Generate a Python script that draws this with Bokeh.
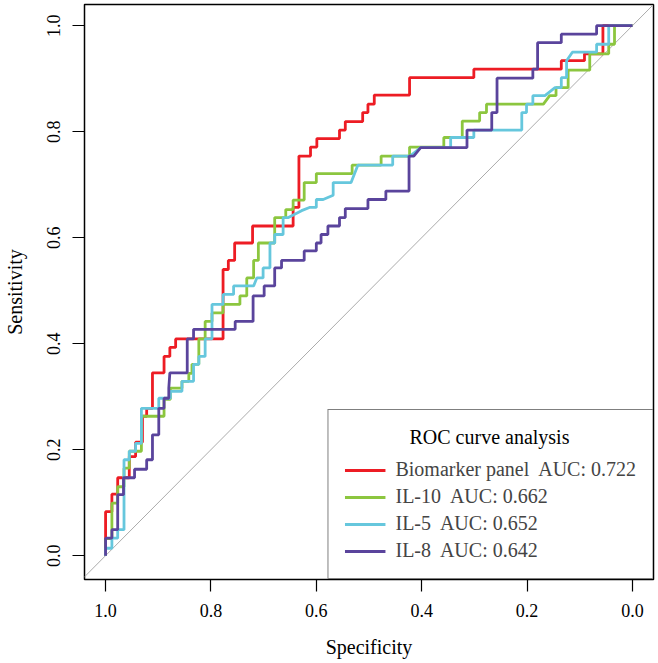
from bokeh.plotting import figure
from bokeh.models import Range1d, Slope, Legend, LegendItem, FixedTicker
from bokeh.embed import file_html
from bokeh.resources import INLINE

# ---- data (specificity, sensitivity) ----
red_pts = [(1.000,0.000),(1.000,0.083),(0.988,0.083),(0.988,0.116),(0.977,0.116),(0.977,0.147),(0.955,0.147),(0.955,0.187),(0.943,0.187),(0.943,0.214),(0.930,0.214),(0.930,0.263),(0.922,0.263),(0.922,0.278),(0.911,0.278),(0.911,0.345),(0.889,0.345),(0.889,0.376),(0.878,0.376),(0.878,0.393),(0.867,0.393),(0.867,0.409),(0.777,0.409),(0.777,0.540),(0.767,0.540),(0.767,0.557),(0.755,0.557),(0.755,0.590),(0.721,0.590),(0.721,0.622),(0.644,0.622),(0.644,0.657),(0.633,0.657),(0.633,0.754),(0.611,0.754),(0.611,0.771),(0.599,0.771),(0.599,0.787),(0.556,0.787),(0.556,0.803),(0.545,0.803),(0.545,0.819),(0.512,0.819),(0.512,0.836),(0.502,0.836),(0.502,0.852),(0.490,0.852),(0.490,0.869),(0.423,0.869),(0.423,0.902),(0.301,0.902),(0.301,0.918),(0.135,0.918),(0.135,0.934),(0.091,0.934),(0.091,0.947),(0.056,0.947),(0.056,1.000),(0.000,1.000)]

green_pts = [(1.000,0.000),(1.000,0.032),(0.988,0.032),(0.988,0.099),(0.977,0.099),(0.977,0.130),(0.965,0.130),(0.965,0.165),(0.955,0.165),(0.955,0.197),(0.932,0.197),(0.932,0.263),(0.889,0.263),(0.889,0.295),(0.877,0.295),(0.877,0.316),(0.855,0.316),(0.855,0.329),(0.842,0.329),(0.842,0.344),(0.836,0.344),(0.836,0.361),(0.823,0.361),(0.823,0.409),(0.811,0.409),(0.811,0.442),(0.798,0.442),(0.798,0.458),(0.777,0.458),(0.777,0.474),(0.745,0.474),(0.745,0.490),(0.732,0.490),(0.732,0.524),(0.719,0.524),(0.719,0.557),(0.710,0.557),(0.710,0.590),(0.679,0.590),(0.679,0.638),(0.658,0.638),(0.658,0.653),(0.644,0.653),(0.644,0.671),(0.623,0.671),(0.623,0.704),(0.600,0.704),(0.600,0.721),(0.532,0.721),(0.532,0.737),(0.477,0.737),(0.477,0.754),(0.423,0.754),(0.423,0.771),(0.358,0.771),(0.358,0.789),(0.323,0.789),(0.323,0.820),(0.290,0.820),(0.290,0.836),(0.277,0.836),(0.277,0.852),(0.169,0.852),(0.157,0.868),(0.145,0.868),(0.145,0.883),(0.122,0.883),(0.122,0.916),(0.081,0.916),(0.081,0.947),(0.045,0.947),(0.045,0.965),(0.034,0.965),(0.034,1.000),(0.000,1.000)]

cyan_pts = [(1.000,0.000),(1.000,0.014),(0.988,0.014),(0.988,0.033),(0.977,0.033),(0.977,0.049),(0.965,0.049),(0.965,0.181),(0.955,0.181),(0.955,0.197),(0.943,0.197),(0.943,0.212),(0.932,0.212),(0.932,0.278),(0.899,0.278),(0.899,0.297),(0.877,0.297),(0.877,0.310),(0.855,0.310),(0.855,0.329),(0.833,0.329),(0.833,0.361),(0.823,0.361),(0.823,0.376),(0.811,0.376),(0.811,0.409),(0.798,0.409),(0.798,0.474),(0.777,0.474),(0.777,0.493),(0.757,0.493),(0.757,0.509),(0.719,0.509),(0.713,0.524),(0.701,0.524),(0.701,0.543),(0.688,0.543),(0.688,0.590),(0.679,0.590),(0.679,0.606),(0.663,0.606),(0.663,0.638),(0.653,0.638),(0.628,0.651),(0.613,0.657),(0.600,0.657),(0.600,0.672),(0.587,0.672),(0.568,0.680),(0.568,0.704),(0.534,0.704),(0.521,0.737),(0.455,0.737),(0.455,0.754),(0.422,0.754),(0.402,0.770),(0.345,0.770),(0.345,0.789),(0.301,0.789),(0.301,0.803),(0.210,0.803),(0.210,0.836),(0.201,0.836),(0.201,0.852),(0.189,0.852),(0.189,0.868),(0.166,0.868),(0.147,0.883),(0.135,0.883),(0.135,0.902),(0.125,0.902),(0.125,0.934),(0.114,0.950),(0.068,0.950),(0.068,0.965),(0.045,0.965),(0.045,1.000),(0.000,1.000)]

purple_pts = [(1.000,0.000),(1.000,0.033),(0.988,0.033),(0.988,0.049),(0.977,0.049),(0.977,0.115),(0.966,0.115),(0.966,0.147),(0.945,0.147),(0.945,0.163),(0.922,0.163),(0.922,0.181),(0.911,0.181),(0.911,0.228),(0.899,0.228),(0.899,0.278),(0.889,0.278),(0.889,0.297),(0.880,0.297),(0.880,0.316),(0.878,0.345),(0.845,0.345),(0.845,0.409),(0.833,0.409),(0.833,0.427),(0.754,0.427),(0.754,0.442),(0.720,0.442),(0.720,0.490),(0.699,0.490),(0.699,0.509),(0.679,0.509),(0.679,0.543),(0.666,0.543),(0.666,0.557),(0.623,0.557),(0.623,0.575),(0.600,0.575),(0.600,0.590),(0.591,0.590),(0.591,0.606),(0.578,0.606),(0.578,0.622),(0.556,0.622),(0.556,0.638),(0.545,0.638),(0.545,0.655),(0.502,0.655),(0.502,0.672),(0.468,0.672),(0.468,0.688),(0.424,0.688),(0.424,0.754),(0.415,0.754),(0.402,0.770),(0.314,0.770),(0.314,0.803),(0.267,0.803),(0.267,0.836),(0.257,0.836),(0.257,0.901),(0.189,0.901),(0.189,0.918),(0.180,0.918),(0.180,0.968),(0.135,0.968),(0.135,0.984),(0.068,0.984),(0.068,1.000),(0.000,1.000)]

series_names = ["Biomarker panel", "IL-10", "IL-5", "IL-8"]
series_auc = ["0.722", "0.662", "0.652", "0.642"]
series_colors = ["#ED1C24", "#8CC63F", "#66C7DD", "#5A449C"]
series_pts = [red_pts, green_pts, cyan_pts, purple_pts]

ticks = [0.0, 0.2, 0.4, 0.6, 0.8, 1.0]
tick_labels = ["0.0", "0.2", "0.4", "0.6", "0.8", "1.0"]
legend_title = "ROC curve analysis"

FONT = "Liberation Serif"

p = figure(width=658, height=663,
           x_range=Range1d(1.04, -0.04), y_range=Range1d(-0.045, 1.04),
           output_backend="svg", toolbar_location=None,
           min_border_left=82, min_border_right=5,
           min_border_top=4, min_border_bottom=84)
p.xgrid.visible = False
p.ygrid.visible = False
p.outline_line_color = "black"
p.outline_line_width = 1.5
p.background_fill_color = "white"
p.border_fill_color = "white"

for ax in (p.xaxis[0], p.yaxis[0]):
    ax.ticker = FixedTicker(ticks=ticks)
    ax.major_label_overrides = {t: l for t, l in zip(ticks, tick_labels)}
    ax.axis_line_color = None
    ax.major_tick_out = 12
    ax.major_tick_in = 0
    ax.minor_tick_out = 0
    ax.minor_tick_in = 0
    ax.major_tick_line_color = "black"
    ax.major_tick_line_width = 1.2
    ax.major_label_text_font = FONT
    ax.major_label_text_font_size = "18px"
    ax.major_label_text_color = "black"
    ax.major_label_standoff = 12
    ax.axis_label_text_font = FONT
    ax.axis_label_text_font_size = "20px"
    ax.axis_label_text_font_style = "normal"
    ax.axis_label_text_color = "black"

p.xaxis.axis_label = "Specificity"
p.yaxis.axis_label = "Sensitivity"
p.xaxis.axis_label_standoff = 16
p.yaxis.axis_label_standoff = 19
p.yaxis.major_label_orientation = "vertical"

diag = Slope(gradient=-1, y_intercept=1, line_color="#ababab", line_width=1, level="underlay")
p.add_layout(diag)

items = []
for name, auc, col, pts in zip(series_names, series_auc, series_colors, series_pts):
    xs = [a for a, b in pts]
    ys = [b for a, b in pts]
    r = p.line(xs, ys, line_color=col, line_width=2.8)
    items.append(LegendItem(label=f"{name}\u00a0 AUC: {auc}", renderers=[r]))

# title indented with non-breaking spaces so it sits centred in the box
legend = Legend(items=items, location="bottom_right", margin=0, padding=16,
                spacing=4, glyph_width=41, glyph_height=20, label_standoff=10,
                label_text_font=FONT, label_text_font_size="20px",
                border_line_color="black", border_line_width=1.5,
                background_fill_color="white", background_fill_alpha=1.0,
                title="\u00a0" * 13 + legend_title, title_text_font=FONT,
                title_text_font_size="20px", title_text_font_style="normal",
                title_text_color="black", title_standoff=9)
p.add_layout(legend)

open("out.html", "w").write(file_html(p, INLINE))
